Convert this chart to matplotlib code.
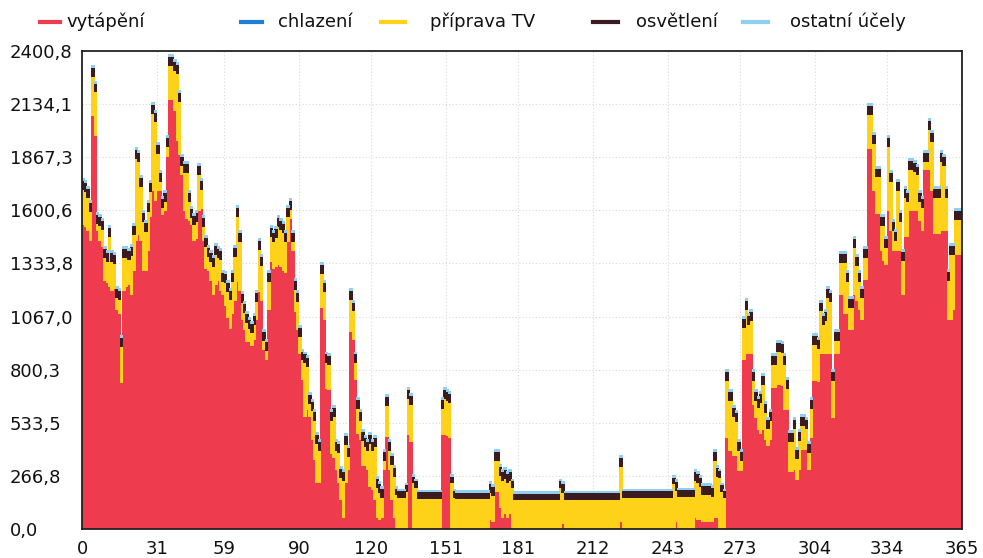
import numpy as np
import matplotlib
matplotlib.use("Agg")
import matplotlib.pyplot as plt
from matplotlib.lines import Line2D

series_names = ["vytápění", "chlazení", "příprava TV", "osvětlení", "ostatní účely"]
series_colors = ["#EE3B4E", "#1F7ED6", "#FFD21A", "#3A1B20", "#8FD0F2"]

heating = [
    1530, 1520, 1500, 1450, 2075, 1975, 1500, 1450, 1420, 1250,
    1240, 1220, 1200, 1210, 1100, 1080, 737, 1200, 1220, 1230,
    1180, 1300, 1450, 1480, 1450, 1300, 1300, 1400, 1570, 1700,
    1650, 1700, 1700, 1580, 1600, 1870, 2156, 2156, 2100, 1950,
    1880, 1780, 1600, 1560, 1550, 1530, 1450, 1460, 1600, 1611,
    1450, 1308, 1300, 1250, 1180, 1230, 1250, 1200, 1180, 1121,
    1060, 1005, 1080, 1150, 1242, 1200, 1050, 1000, 940, 940,
    920, 950, 1050, 1192, 1150, 900, 850, 1100, 1343, 1308,
    1320, 1328, 1320, 1300, 1290, 1444, 1560, 1400, 1090, 1000,
    880, 752, 565, 600, 565, 450, 350, 232, 232, 1110,
    1050, 707, 700, 380, 360, 300, 232, 150, 60, 232,
    300, 990, 950, 752, 480, 450, 318, 318, 300, 212,
    200, 150, 60, 50, 60, 300, 465, 300, 150, 60,
    0, 0, 0, 0, 0, 475, 440, 0, 0, 0,
    0, 0, 0, 0, 0, 0, 0, 0, 0, 475,
    475, 470, 460, 0, 0, 0, 0, 0, 0, 0,
    0, 0, 0, 0, 0, 0, 0, 0, 0, 50,
    40, 187, 190, 110, 60, 80, 60, 80, 0, 0,
    0, 0, 0, 0, 0, 0, 0, 0, 0, 0,
    0, 0, 0, 0, 0, 0, 0, 0, 0, 30,
    0, 0, 0, 0, 0, 0, 0, 0, 0, 0,
    0, 0, 0, 0, 0, 0, 0, 0, 0, 0,
    0, 0, 0, 40, 0, 0, 0, 0, 0, 0,
    0, 0, 0, 0, 0, 0, 0, 0, 0, 0,
    0, 0, 0, 0, 0, 0, 40, 0, 0, 0,
    0, 0, 0, 0, 60, 50, 50, 40, 40, 40,
    40, 40, 60, 60, 0, 0, 0, 460, 394, 394,
    370, 370, 293, 293, 853, 880, 880, 880, 626, 560,
    500, 480, 500, 450, 420, 450, 712, 712, 727, 727,
    720, 600, 600, 290, 290, 300, 250, 300, 400, 400,
    400, 300, 460, 747, 747, 740, 880, 880, 880, 880,
    880, 560, 880, 880, 1180, 1180, 1080, 1080, 1000, 1000,
    1180, 1150, 1100, 1050, 1252, 1252, 1909, 1909, 1700, 1585,
    1585, 1400, 1350, 1330, 1600, 1500, 1400, 1400, 1400, 1400,
    1180, 1470, 1470, 1600, 1600, 1600, 1600, 1550, 1500, 1808,
    1808, 1808, 1700, 1485, 1485, 1485, 1500, 1500, 1500, 1050,
    1050, 1100, 1379, 1379, 1379,
]

dhw = [
    175, 175, 165, 145, 200, 220, 35, 75, 85, 115,
    105, 250, 145, 125, 65, 75, 178, 165, 145, 125,
    195, 180, 409, 365, 268, 245, 195, 195, 127, 386,
    395, 184, 45, 37, 45, 50, 173, 173, 205, 338,
    265, 44, 193, 233, 95, 35, 81, 85, 183, 96,
    71, 112, 69, 95, 139, 149, 115, 154, 65, 117,
    135, 147, 165, 219, 329, 245, 87, 86, 95, 65,
    65, 75, 95, 212, 175, 45, 45, 145, 127, 137,
    145, 193, 185, 190, 155, 127, 46, 45, 112, 145,
    85, 97, 269, 215, 67, 145, 195, 198, 163, 175,
    145, 127, 125, 165, 205, 95, 153, 108, 185, 193,
    65, 162, 145, 82, 125, 95, 127, 97, 95, 218,
    195, 265, 148, 135, 97, 45, 157, 95, 175, 205,
    172, 160, 160, 160, 190, 182, 185, 233, 210, 155,
    155, 155, 155, 155, 155, 155, 155, 155, 155, 132,
    182, 175, 175, 233, 160, 152, 152, 152, 152, 152,
    152, 152, 152, 152, 152, 152, 152, 152, 152, 132,
    127, 158, 155, 158, 185, 175, 172, 165, 210, 146,
    146, 146, 146, 146, 146, 146, 146, 146, 146, 146,
    146, 146, 146, 146, 146, 146, 146, 146, 210, 155,
    150, 150, 150, 150, 150, 150, 150, 150, 150, 150,
    150, 150, 150, 150, 150, 150, 150, 150, 150, 150,
    150, 150, 150, 275, 160, 160, 160, 160, 160, 160,
    160, 160, 160, 160, 160, 160, 160, 160, 160, 160,
    160, 160, 160, 160, 160, 227, 155, 165, 165, 165,
    165, 165, 165, 165, 185, 185, 165, 135, 135, 135,
    135, 125, 285, 205, 260, 190, 160, 285, 251, 251,
    195, 170, 102, 52, 157, 221, 145, 165, 119, 85,
    111, 155, 225, 135, 85, 95, 112, 113, 167, 167,
    165, 225, 105, 150, 150, 205, 104, 145, 120, 120,
    105, 85, 147, 178, 178, 165, 215, 145, 165, 282,
    265, 185, 65, 65, 158, 158, 258, 165, 112, 112,
    235, 175, 145, 115, 112, 112, 172, 172, 235, 183,
    183, 125, 175, 85, 320, 245, 100, 50, 302, 145,
    169, 197, 175, 208, 208, 195, 178, 95, 117, 36,
    36, 197, 245, 182, 182, 182, 345, 325, 167, 198,
    329, 279, 177, 177, 177,
]

lighting = [
    45, 45, 45, 45, 45, 45, 45, 45, 45, 45,
    45, 45, 45, 45, 45, 45, 45, 45, 45, 45,
    45, 45, 45, 45, 45, 45, 45, 45, 45, 45,
    45, 45, 45, 45, 45, 45, 45, 45, 45, 45,
    45, 45, 45, 45, 45, 45, 45, 45, 45, 45,
    45, 45, 45, 45, 45, 45, 45, 45, 45, 45,
    45, 45, 45, 45, 45, 45, 45, 45, 45, 45,
    45, 45, 45, 45, 45, 45, 45, 45, 45, 45,
    45, 45, 45, 45, 45, 45, 45, 45, 45, 45,
    45, 45, 45, 45, 45, 45, 45, 45, 45, 45,
    45, 45, 45, 45, 45, 45, 45, 45, 45, 45,
    45, 45, 45, 45, 45, 45, 45, 45, 45, 45,
    45, 45, 45, 45, 45, 45, 45, 45, 45, 45,
    32, 32, 32, 32, 32, 45, 45, 32, 32, 32,
    32, 32, 32, 32, 32, 32, 32, 32, 32, 45,
    45, 45, 45, 32, 32, 32, 32, 32, 32, 32,
    32, 32, 32, 32, 32, 32, 32, 32, 32, 45,
    45, 45, 45, 45, 45, 45, 45, 45, 32, 32,
    32, 32, 32, 32, 32, 32, 32, 32, 32, 32,
    32, 32, 32, 32, 32, 32, 32, 32, 32, 45,
    32, 32, 32, 32, 32, 32, 32, 32, 32, 32,
    32, 32, 32, 32, 32, 32, 32, 32, 32, 32,
    32, 32, 32, 45, 32, 32, 32, 32, 32, 32,
    32, 32, 32, 32, 32, 32, 32, 32, 32, 32,
    32, 32, 32, 32, 32, 32, 45, 32, 32, 32,
    32, 32, 32, 32, 45, 45, 45, 45, 45, 45,
    45, 45, 45, 45, 32, 32, 32, 45, 45, 45,
    45, 45, 45, 45, 45, 45, 45, 45, 45, 45,
    45, 45, 45, 45, 45, 45, 45, 45, 45, 45,
    45, 45, 45, 45, 45, 45, 45, 45, 45, 45,
    45, 45, 45, 45, 45, 45, 45, 45, 45, 45,
    45, 45, 45, 45, 45, 45, 45, 45, 45, 45,
    45, 45, 45, 45, 45, 45, 45, 45, 45, 45,
    45, 45, 45, 45, 45, 45, 45, 45, 45, 45,
    45, 45, 45, 45, 45, 45, 45, 45, 45, 45,
    45, 45, 45, 45, 45, 45, 45, 45, 45, 45,
    45, 45, 45, 45, 45,
]

other = [
    10, 10, 10, 10, 10, 10, 10, 10, 10, 10,
    10, 10, 10, 10, 10, 10, 10, 10, 10, 10,
    10, 10, 10, 10, 10, 10, 10, 10, 10, 10,
    10, 10, 10, 10, 10, 10, 10, 10, 10, 10,
    10, 10, 10, 10, 10, 10, 10, 10, 10, 10,
    10, 10, 10, 10, 10, 10, 10, 10, 10, 10,
    10, 10, 10, 10, 10, 10, 10, 10, 10, 10,
    10, 10, 10, 10, 10, 10, 10, 10, 10, 10,
    10, 10, 10, 10, 10, 10, 10, 10, 10, 10,
    10, 10, 10, 10, 10, 10, 10, 10, 10, 10,
    10, 10, 10, 10, 10, 10, 10, 10, 10, 10,
    10, 10, 10, 10, 10, 10, 10, 10, 10, 10,
    10, 10, 10, 10, 10, 10, 10, 10, 10, 10,
    8, 8, 8, 8, 8, 10, 10, 8, 8, 8,
    8, 8, 8, 8, 8, 8, 8, 8, 8, 10,
    10, 10, 10, 8, 8, 8, 8, 8, 8, 8,
    8, 8, 8, 8, 8, 8, 8, 8, 8, 10,
    10, 10, 10, 10, 10, 10, 10, 10, 8, 8,
    8, 8, 8, 8, 8, 8, 8, 8, 8, 8,
    8, 8, 8, 8, 8, 8, 8, 8, 8, 10,
    8, 8, 8, 8, 8, 8, 8, 8, 8, 8,
    8, 8, 8, 8, 8, 8, 8, 8, 8, 8,
    8, 8, 8, 10, 8, 8, 8, 8, 8, 8,
    8, 8, 8, 8, 8, 8, 8, 8, 8, 8,
    8, 8, 8, 8, 8, 8, 10, 8, 8, 8,
    8, 8, 8, 8, 10, 10, 10, 10, 10, 10,
    10, 10, 10, 10, 8, 8, 8, 10, 10, 10,
    10, 10, 10, 10, 10, 10, 10, 10, 10, 10,
    10, 10, 10, 10, 10, 10, 10, 10, 10, 10,
    10, 10, 10, 10, 10, 10, 10, 10, 10, 10,
    10, 10, 10, 10, 10, 10, 10, 10, 10, 10,
    10, 10, 10, 10, 10, 10, 10, 10, 10, 10,
    10, 10, 10, 10, 10, 10, 10, 10, 10, 10,
    10, 10, 10, 10, 10, 10, 10, 10, 10, 10,
    10, 10, 10, 10, 10, 10, 10, 10, 10, 10,
    10, 10, 10, 10, 10, 10, 10, 10, 10, 10,
    10, 10, 10, 10, 10,
]

cooling = [0] * len(heating)

x_ticks = [0, 31, 59, 90, 120, 151, 181, 212, 243, 273, 304, 334, 365]
y_max = 2400.8
y_tick_labels = ["0,0", "266,8", "533,5", "800,3", "1067,0", "1333,8",
                 "1600,6", "1867,3", "2134,1", "2400,8"]

assert len(heating) == len(dhw) == len(lighting) == len(other) == 365, (
    len(heating), len(dhw), len(lighting), len(other))

W, H = 983, 558
fig = plt.figure(figsize=(W / 100, H / 100), dpi=100)
ax = fig.add_axes([82 / W, (H - 529) / H, (962 - 82) / W, (529 - 51) / H])

series = [heating, cooling, dhw, lighting, other]
edges = np.arange(len(heating) + 1)
bottom = np.zeros(len(heating))
for vals, color in zip(series, series_colors):
    vals = np.asarray(vals, dtype=float)
    top = bottom + vals
    if vals.max() > 0:
        ax.stairs(top, edges, baseline=bottom, fill=True, color=color,
                  linewidth=0, antialiased=False, zorder=2)
    bottom = top

ax.set_xlim(0, 365)
ax.set_ylim(0, y_max)
y_ticks = np.linspace(0, y_max, len(y_tick_labels))
ax.set_yticks(y_ticks)
ax.set_yticklabels(y_tick_labels)
ax.set_xticks(x_ticks)
ax.set_xticklabels([str(t) for t in x_ticks])
ax.grid(True, color="#d9d9d9", linestyle=(0, (1, 2)), linewidth=0.8, zorder=0)
ax.set_axisbelow(True)
ax.tick_params(axis="both", length=0, labelsize=13, colors="#111111")
ax.tick_params(axis="y", pad=52)
ax.tick_params(axis="x", pad=8)
for lbl in ax.get_yticklabels():
    lbl.set_horizontalalignment("left")
for sp in ax.spines.values():
    sp.set_color("#222222")
    sp.set_linewidth(1.3)
    sp.set_zorder(5)

# legend placed along the top like the original
leg_line_x = [(40, 60), (241, 262), (381, 405), (593, 618), (743, 768)]
leg_text_x = [66, 278, 430, 636, 790]
for name, color, (xa, xb), xt in zip(series_names, series_colors, leg_line_x, leg_text_x):
    y = 1 - 22 / H
    fig.add_artist(Line2D([xa / W, xb / W], [y, y], color=color,
                          linewidth=3, transform=fig.transFigure))
    fig.text(xt / W, y, name, fontsize=13, va="center", ha="left",
             color="#111111")

fig.savefig("out.png", dpi=100, facecolor="white")
